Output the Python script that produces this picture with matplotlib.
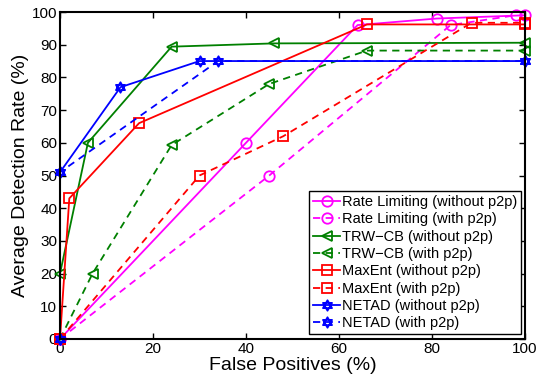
import matplotlib
matplotlib.use("Agg")
import matplotlib.pyplot as plt
from matplotlib.path import Path
import numpy as np

plt.rcParams['font.family'] = ['Liberation Sans', 'DejaVu Sans']

# Data
rl_x = [0, 40, 64, 81, 100]
rl_y = [0, 60, 96, 98, 99]
rl_p2p_x = [0, 45, 84, 98]
rl_p2p_y = [0, 50, 96, 99]

trw_x = [0, 0, 6, 24, 46, 100]
trw_y = [0, 20, 60, 89.4, 90.4, 90.6]
trw_p2p_x = [0, 7, 24, 45, 66, 100]
trw_p2p_y = [0, 20, 59.3, 78, 88.2, 88.2]

me_x = [0, 2, 17, 66, 100]
me_y = [0, 43, 66, 96.2, 96.2]
me_p2p_x = [0, 30, 48, 88.5, 100]
me_p2p_y = [0, 50, 62, 96.7, 96.7]

net_x = [0, 0, 13, 30, 100]
net_y = [0, 51, 77, 85, 85]
net_p2p_x = [0, 0, 34, 100]
net_p2p_y = [0, 51, 85, 85]

labels = ['Rate Limiting (without p2p)', 'Rate Limiting (with p2p)',
          'TRW\u2212CB (without p2p)', 'TRW\u2212CB (with p2p)',
          'MaxEnt (without p2p)', 'MaxEnt (with p2p)',
          'NETAD (without p2p)', 'NETAD (with p2p)']

# hexagram marker
a = np.deg2rad([90, 210, 330])
b = np.deg2rad([270, 30, 150])
verts = []
codes = []
for ang in (a, b):
    pts = [(np.cos(t), np.sin(t)) for t in ang]
    verts += pts + [pts[0]]
    codes += [Path.MOVETO, Path.LINETO, Path.LINETO, Path.CLOSEPOLY]
hexagram = Path(verts, codes)

fig = plt.figure(figsize=(5.37, 3.78), dpi=100)
ax = fig.add_axes([60/537, 1-339/378, 465/537, 327/378])

magenta = '#ff00ff'
green = '#008000'
red = '#ff0000'
blue = '#0000ff'
lw = 1.3
ms = 7.5

series = [
    (rl_x, rl_y, magenta, '-', 'o', ms),
    (rl_p2p_x, rl_p2p_y, magenta, '--', 'o', ms),
    (trw_x, trw_y, green, '-', '<', ms),
    (trw_p2p_x, trw_p2p_y, green, '--', '<', ms),
    (me_x, me_y, red, '-', 's', ms - 1),
    (me_p2p_x, me_p2p_y, red, '--', 's', ms - 1),
    (net_x, net_y, blue, '-', hexagram, ms),
    (net_p2p_x, net_p2p_y, blue, '--', hexagram, ms),
]
for (x, y, c, ls, m, s), lab in zip(series, labels):
    kw = dict(dashes=(4, 3)) if ls == '--' else {}
    ax.plot(x, y, color=c, linestyle=ls, marker=m, markersize=s,
            markerfacecolor='none', markeredgecolor=c, markeredgewidth=1.3,
            linewidth=lw, label=lab, clip_on=False, **kw)

ax.set_xlim(0, 100)
ax.set_ylim(0, 100)
ax.set_xticks(np.arange(0, 101, 20))
ax.set_yticks(np.arange(0, 101, 10))
ax.tick_params(direction='in', top=True, right=True, labelsize=11, length=4, width=1, pad=2)
for sp in ax.spines.values():
    sp.set_linewidth(1.5)
ax.set_xlabel('False Positives (%)', fontsize=14, labelpad=1)
ax.set_ylabel('Average Detection Rate (%)', fontsize=14, labelpad=2)

leg = ax.legend(loc='lower right', bbox_to_anchor=(0.991, 0.015), borderaxespad=0,
                fontsize=10.5, handlelength=1.9, handletextpad=0.1, labelspacing=0.23,
                borderpad=0.25, fancybox=False, framealpha=1, edgecolor='black')
leg.get_frame().set_linewidth(1.0)

fig.savefig('out.png', dpi=100)
